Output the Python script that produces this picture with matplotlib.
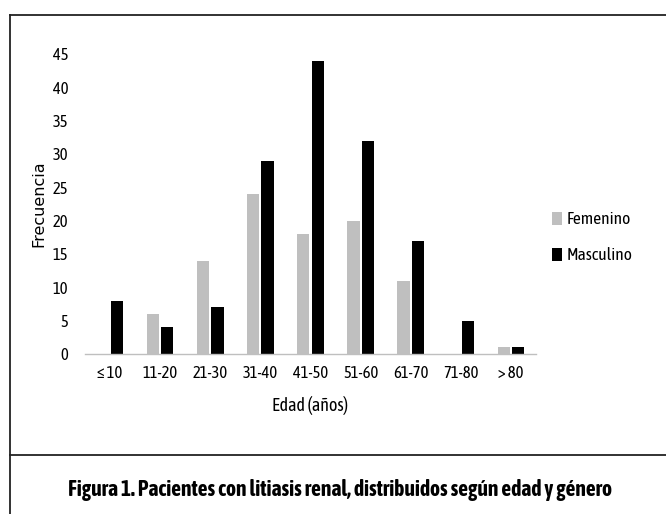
import matplotlib
matplotlib.use("Agg")
import matplotlib.pyplot as plt
import numpy as np
from matplotlib.lines import Line2D

categorias = ["≤ 10", "11-20", "21-30", "31-40", "41-50", "51-60", "61-70", "71-80", "> 80"]
femenino = [0, 6, 14, 24, 18, 20, 11, 0, 1]
masculino = [8, 4, 7, 29, 44, 32, 17, 5, 1]
yticks = [0, 5, 10, 15, 20, 25, 30, 35, 40, 45]

condensed = ["Asap Condensed", "DejaVu Sans"]

fig = plt.figure(figsize=(6.66, 5.14), dpi=100)
ax = fig.add_axes([85 / 666, 1 - 354 / 514, 451 / 666, 300 / 514])

x = np.arange(len(categorias))
w = 0.245
ax.bar(x - w / 2 - 0.02, femenino, w, color="#bfbfbf", label="Femenino")
ax.bar(x + w / 2 + 0.02, masculino, w, color="#000000", label="Masculino")

ax.set_xlim(-0.5, len(categorias) - 0.5)
ax.set_ylim(0, 45)
ax.set_yticks(yticks)
ax.set_xticks(x)
ax.set_xticklabels(categorias, family=condensed, fontsize=12)
ax.set_yticklabels([str(t) for t in yticks], family=condensed, fontsize=12)
ax.tick_params(length=0, pad=12)
ax.tick_params(axis="x", pad=8)
for s in ["top", "right", "left"]:
    ax.spines[s].set_visible(False)
ax.spines["bottom"].set_color("#bfbfbf")
ax.spines["bottom"].set_linewidth(1)

ax.set_xlabel("Edad (años)", family=condensed, fontsize=13, labelpad=10)
ax.set_ylabel("Frecuencia", family="DejaVu Sans", fontsize=11.5, labelpad=5)

ax.legend(loc="center left", bbox_to_anchor=(1.0, 0.387), frameon=False,
          prop={"family": condensed, "size": 12.5}, handlelength=0.6,
          handleheight=0.8, handletextpad=0.25, labelspacing=1.1)

# marco de la figura
fig.add_artist(Line2D([10 / 666, 10 / 666], [0, 1 - 15 / 514], color="#222222", lw=1.3))
fig.add_artist(Line2D([10 / 666, 1], [1 - 15 / 514, 1 - 15 / 514], color="#222222", lw=1.3))
fig.add_artist(Line2D([10 / 666, 1], [1 - 455 / 514, 1 - 455 / 514], color="#222222", lw=1.3))

fig.text(340 / 666, 1 - 490 / 514,
         "Figura 1. Pacientes con litiasis renal, distribuidos según edad y género",
         ha="center", va="center", family=condensed, fontweight="bold", fontsize=15.5)

fig.savefig("out.png", dpi=100)
